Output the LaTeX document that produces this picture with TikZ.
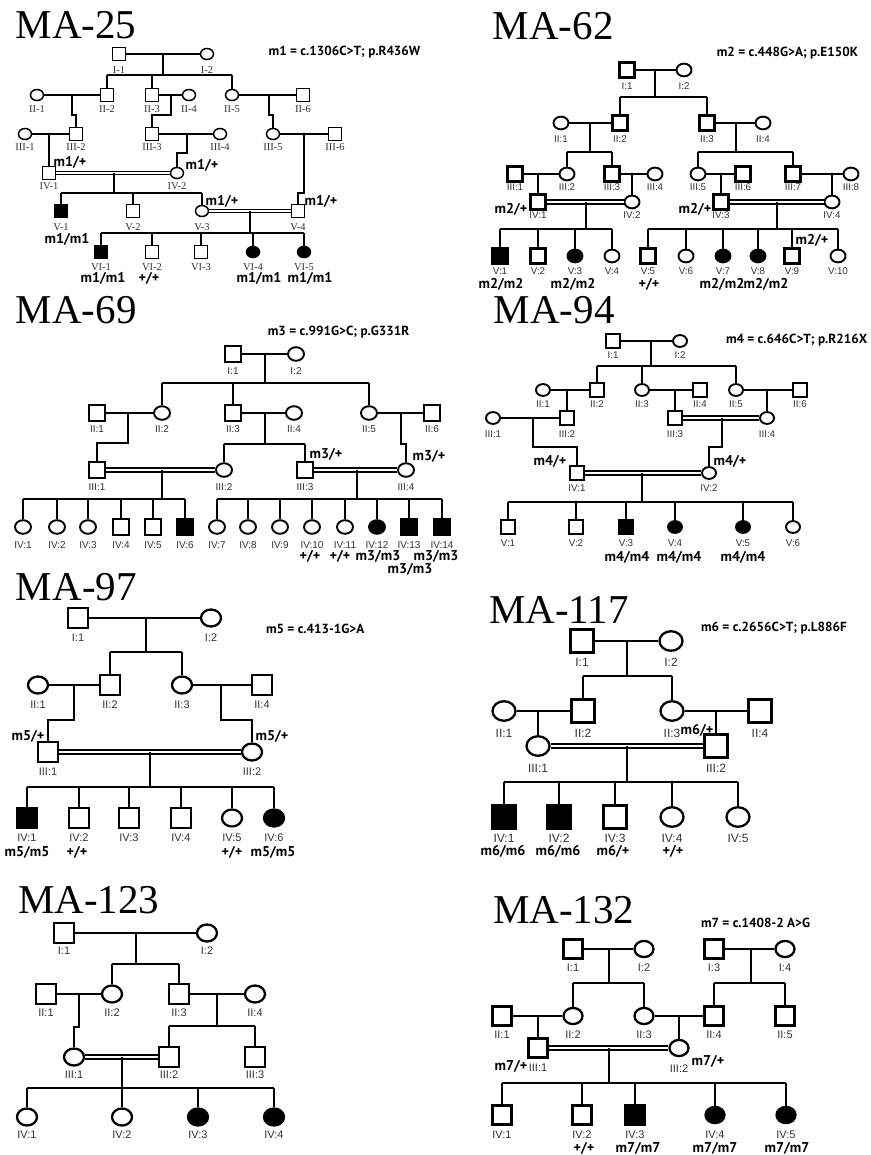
\documentclass[tikz,border=0pt]{standalone}
\usepackage{fontspec}
\setmainfont{Liberation Serif}
\newfontfamily\gsans{PT Sans}
\newfontfamily\isans{Liberation Sans}
\usetikzlibrary{shapes.geometric}
\tikzset{
 sqs/.style={draw, rectangle, inner sep=0pt, minimum size=#1},
 els/.style={draw, ellipse, inner sep=0pt, minimum width=#1, minimum height=0.85*#1},
 aff/.style={fill=black},
 dbl/.style={double, double distance=1.8pt},
 ttl/.style={font=\fontsize{41}{41}\selectfont, inner sep=0pt, anchor=base west},
 mut/.style={font=\gsans\bfseries\fontsize{13.2}{14}\selectfont, inner sep=0pt, anchor=west},
 gt/.style={font=\gsans\bfseries\fontsize{14.2}{15}\selectfont, inner sep=0pt},
}
\newcommand\ind[6]{\node[#1] (#2) at (#3,#4) {}; \node[idl] (#2t) at (#3,#5) {#6};}
\newcommand\gtp[4]{\node[gt] (#1) at (#2,#3) {#4};}
\begin{document}
\begin{tikzpicture}[x=1pt,y=-1pt]
\fill[white] (0,0) rectangle (870,1155);
\useasboundingbox (0,0) rectangle (870,1155);

% ---------------- MA-25
\begin{scope}[M/.style={sqs=13,line width=1.6pt}, F/.style={els=13,line width=1.5pt},
 idl/.style={font=\fontsize{10.5}{10.5}\selectfont, text=black!80, inner sep=0pt}, line width=1.3pt]
\node[ttl] (aT) at (15,39) {MA-25};
\node[mut] (aMu) at (268,52) {m1 = c.1306C>T; p.R436W};
\ind{M}{aI1}{119}{54}{70}{I-1}
\ind{F}{aI2}{207}{54}{70}{I-2}
\ind{F}{aII1}{37}{95}{109}{II-1}
\ind{M}{aII2}{107}{95}{109}{II-2}
\ind{M}{aII3}{152}{95}{109}{II-3}
\ind{F}{aII4}{189}{95}{109}{II-4}
\ind{F}{aII5}{232}{95}{109}{II-5}
\ind{M}{aII6}{303}{95}{109}{II-6}
\ind{F}{aIII1}{25}{134}{147}{III-1}
\ind{M}{aIII2}{76}{134}{147}{III-2}
\ind{M}{aIII3}{152}{134}{147}{III-3}
\ind{F}{aIII4}{220}{134}{147}{III-4}
\ind{F}{aIII5}{273}{134}{147}{III-5}
\ind{M}{aIII6}{335}{134}{147}{III-6}
\ind{M}{aIV1}{49}{173}{186}{IV-1}
\ind{F}{aIV2}{177}{173}{186}{IV-2}
\ind{M,aff}{aV1}{61}{211}{227}{V-1}
\ind{M}{aV2}{133}{211}{227}{V-2}
\ind{F}{aV3}{202}{211}{227}{V-3}
\ind{M}{aV4}{298}{211}{227}{V-4}
\ind{M,aff}{aVI1}{101}{252}{267}{VI-1}
\ind{M}{aVI2}{152}{252}{267}{VI-2}
\ind{M}{aVI3}{201}{252}{267}{VI-3}
\ind{F,aff}{aVI4}{253}{252}{267}{VI-4}
\ind{F,aff}{aVI5}{304}{252}{267}{VI-5}
\draw (aI1) -- (aI2);
\coordinate (aD1) at (163,54); \coordinate (aS1) at (163,75);
\draw (aD1) -- (aS1); \draw (aII2 |- aS1) -- (aII5 |- aS1);
\foreach \nn in {aII2,aII3,aII5} \draw (\nn |- aS1) -- (\nn.north);
\draw (aII1) -- (aII2); \coordinate (aD2) at (72,95); \draw (aD2) -- ++(0,20) -| (aIII2.north);
\draw (aII3) -- (aII4); \coordinate (aD3) at (171,95); \draw (aD3) -- ++(0,20) -| (aIII3.north);
\draw (aII5) -- (aII6); \coordinate (aD4) at (269,95); \draw (aD4) -- ++(0,20) -| (aIII5.north);
\draw (aIII1) -- (aIII2); \draw (aIV1.north |- aIII1) -- (aIV1.north);
\draw (aIII3) -- (aIII4); \coordinate (aD5) at (187,134); \draw (aD5) -- ++(0,19) -| (aIV2.north);
\draw (aIII5) -- (aIII6); \coordinate (aD6) at (304,134); \draw (aD6) -- ++(0,59) -| (aV4.north);
\draw[dbl] (aIV1) -- (aIV2);
\coordinate (aD7) at (114,173); \coordinate (aS7) at (114,193);
\draw (aD7) -- (aS7); \draw (aV1 |- aS7) -- (aV3 |- aS7);
\foreach \nn in {aV1,aV2,aV3} \draw (\nn |- aS7) -- (\nn.north);
\draw[dbl] (aV3) -- (aV4);
\coordinate (aD8) at (250,211); \coordinate (aS8) at (250,233);
\draw (aD8) -- (aS8); \draw (aVI1 |- aS8) -- (aVI5 |- aS8);
\foreach \nn in {aVI1,aVI2,aVI3,aVI4,aVI5} \draw (\nn |- aS8) -- (\nn.north);
\gtp{aG1}{70}{162}{m1/+}
\gtp{aG2}{202}{165}{m1/+}
\gtp{aG3}{222}{201}{m1/+}
\gtp{aG4}{321}{201}{m1/+}
\gtp{aG5}{67}{239}{m1/m1}
\gtp{aG6}{103}{278}{m1/m1}
\gtp{aG7}{149}{278}{+/+}
\gtp{aG8}{259}{278}{m1/m1}
\gtp{aG9}{310}{278}{m1/m1}
\end{scope}

% ---------------- MA-62
\begin{scope}[M/.style={sqs=15,line width=2.1pt}, F/.style={els=15,line width=1.9pt},
 idl/.style={font=\isans\fontsize{9.8}{9.8}\selectfont, text=black!80, inner sep=0pt}, line width=1.7pt]
\node[ttl] (bT) at (492,40) {MA-62};
\node[mut] (bMu) at (716,53) {m2 = c.448G>A; p.E150K};
\ind{M}{bI1}{627}{70}{86}{I:1}
\ind{F}{bI2}{684}{70}{86}{I:2}
\ind{F}{bII1}{561}{123}{139}{II:1}
\ind{M}{bII2}{620}{123}{139}{II:2}
\ind{M}{bII3}{707}{123}{139}{II:3}
\ind{F}{bII4}{763}{123}{139}{II:4}
\ind{M}{bIII1}{515}{174}{187}{III:1}
\ind{F}{bIII2}{567}{174}{187}{III:2}
\ind{M}{bIII3}{612}{174}{187}{III:3}
\ind{F}{bIII4}{655}{174}{187}{III:4}
\ind{F}{bIII5}{698}{174}{187}{III:5}
\ind{M}{bIII6}{743}{174}{187}{III:6}
\ind{M}{bIII7}{793}{174}{187}{III:7}
\ind{F}{bIII8}{851}{174}{187}{III:8}
\ind{M}{bIV1}{538}{202}{215}{IV:1}
\ind{F}{bIV2}{632}{202}{215}{IV:2}
\ind{M}{bIV3}{721}{202}{215}{IV:3}
\ind{F}{bIV4}{832}{202}{215}{IV:4}
\ind{M,aff}{bV1}{500}{256}{271}{V:1}
\ind{M}{bV2}{538}{256}{271}{V:2}
\ind{F,aff}{bV3}{575}{256}{271}{V:3}
\ind{F}{bV4}{612}{256}{271}{V:4}
\ind{M}{bV5}{648}{256}{271}{V:5}
\ind{F}{bV6}{686}{256}{271}{V:6}
\ind{F,aff}{bV7}{723}{256}{271}{V:7}
\ind{F,aff}{bV8}{758}{256}{271}{V:8}
\ind{M}{bV9}{792}{256}{271}{V:9}
\ind{F}{bV10}{838}{256}{271}{V:10}
\draw (bI1) -- (bI2);
\coordinate (bD1) at (655,70); \coordinate (bS1) at (655,97);
\draw (bD1) -- (bS1); \draw (bII2 |- bS1) -- (bII3 |- bS1);
\foreach \nn in {bII2,bII3} \draw (\nn |- bS1) -- (\nn.north);
\draw (bII1) -- (bII2);
\coordinate (bD2) at (590,123); \coordinate (bS2) at (590,152);
\draw (bD2) -- (bS2); \draw (bIII2 |- bS2) -- (bIII3 |- bS2);
\foreach \nn in {bIII2,bIII3} \draw (\nn |- bS2) -- (\nn.north);
\draw (bII3) -- (bII4);
\coordinate (bD3) at (736,123); \coordinate (bS3) at (736,152);
\draw (bD3) -- (bS3); \draw (bIII5 |- bS3) -- (bIII7 |- bS3);
\foreach \nn in {bIII5,bIII7} \draw (\nn |- bS3) -- (\nn.north);
\draw (bIII1) -- (bIII2); \draw (bIV1.north |- bIII1) -- (bIV1.north);
\draw (bIII3) -- (bIII4); \draw (bIV2.north |- bIII3) -- (bIV2.north);
\draw (bIII5) -- (bIII6); \draw (bIV3.north |- bIII5) -- (bIV3.north);
\draw (bIII7) -- (bIII8); \draw (bIV4.north |- bIII7) -- (bIV4.north);
\draw[dbl] (bIV1) -- (bIV2);
\coordinate (bD4) at (586,202); \coordinate (bS4) at (586,229);
\draw (bD4) -- (bS4); \draw (bV1 |- bS4) -- (bV4 |- bS4);
\foreach \nn in {bV1,bV2,bV3,bV4} \draw (\nn |- bS4) -- (\nn.north);
\draw[dbl] (bIV3) -- (bIV4);
\coordinate (bD5) at (777,202); \coordinate (bS5) at (777,229);
\draw (bD5) -- (bS5); \draw (bV5 |- bS5) -- (bV10 |- bS5);
\foreach \nn in {bV5,bV6,bV7,bV8,bV9,bV10} \draw (\nn |- bS5) -- (\nn.north);
\gtp{bG1}{511}{209}{m2/+}
\gtp{bG2}{695}{209}{m2/+}
\gtp{bG3}{812}{240}{m2/+}
\gtp{bG4}{501}{284}{m2/m2}
\gtp{bG5}{573}{284}{m2/m2}
\gtp{bG6}{649}{284}{+/+}
\gtp{bG7}{722}{284}{m2/m2}
\gtp{bG8}{766}{284}{m2/m2}
\end{scope}

% ---------------- MA-69
\begin{scope}[M/.style={sqs=16,line width=2.1pt}, F/.style={els=16,line width=1.9pt},
 idl/.style={font=\isans\fontsize{10}{10}\selectfont, text=black!80, inner sep=0pt}, line width=1.7pt]
\node[ttl] (cT) at (15,323) {MA-69};
\node[mut] (cMu) at (267,332) {m3 = c.991G>C; p.G331R};
\ind{M}{cI1}{233}{354}{371}{I:1}
\ind{F}{cI2}{296}{354}{371}{I:2}
\ind{M}{cII1}{97}{413}{429}{II:1}
\ind{F}{cII2}{162}{413}{429}{II:2}
\ind{M}{cII3}{233}{413}{429}{II:3}
\ind{F}{cII4}{294}{413}{429}{II:4}
\ind{F}{cII5}{369}{413}{429}{II:5}
\ind{M}{cII6}{432}{413}{429}{II:6}
\ind{M}{cIII1}{97}{470}{487}{III:1}
\ind{F}{cIII2}{224}{470}{487}{III:2}
\ind{M}{cIII3}{305}{470}{487}{III:3}
\ind{F}{cIII4}{406}{470}{487}{III:4}
\ind{F}{cIV1}{23}{527}{545}{IV:1}
\ind{F}{cIV2}{57}{527}{545}{IV:2}
\ind{F}{cIV3}{88}{527}{545}{IV:3}
\ind{M}{cIV4}{121}{527}{545}{IV:4}
\ind{M}{cIV5}{153}{527}{545}{IV:5}
\ind{M,aff}{cIV6}{185}{527}{545}{IV:6}
\ind{F}{cIV7}{217}{527}{545}{IV:7}
\ind{F}{cIV8}{248}{527}{545}{IV:8}
\ind{F}{cIV9}{280}{527}{545}{IV:9}
\ind{F}{cIV10}{312}{527}{545}{IV:10}
\ind{F}{cIV11}{345}{527}{545}{IV:11}
\ind{F,aff}{cIV12}{377}{527}{545}{IV:12}
\ind{M,aff}{cIV13}{409}{527}{545}{IV:13}
\ind{M,aff}{cIV14}{442}{527}{545}{IV:14}
\draw (cI1) -- (cI2);
\coordinate (cD1) at (265,354); \coordinate (cS1) at (265,383);
\draw (cD1) -- (cS1); \draw (cII2 |- cS1) -- (cII5 |- cS1);
\foreach \nn in {cII2,cII3,cII5} \draw (\nn |- cS1) -- (\nn.north);
\draw (cII1) -- (cII2); \coordinate (cD2) at (128,413); \draw (cD2) -- ++(0,30) -| (cIII1.north);
\draw (cII3) -- (cII4);
\coordinate (cD3) at (265,413); \coordinate (cS3) at (265,444);
\draw (cD3) -- (cS3); \draw (cIII2 |- cS3) -- (cIII3 |- cS3);
\foreach \nn in {cIII2,cIII3} \draw (\nn |- cS3) -- (\nn.north);
\draw (cII5) -- (cII6); \coordinate (cD4) at (401,413); \draw (cD4) -- ++(0,31) -| (cIII4.north);
\draw[dbl] (cIII1) -- (cIII2);
\coordinate (cD5) at (162,470); \coordinate (cS5) at (162,499);
\draw (cD5) -- (cS5); \draw (cIV1 |- cS5) -- (cIV6 |- cS5);
\foreach \nn in {cIV1,cIV2,cIV3,cIV4,cIV5,cIV6} \draw (\nn |- cS5) -- (\nn.north);
\draw[dbl] (cIII3) -- (cIII4);
\coordinate (cD6) at (357,470); \coordinate (cS6) at (357,499);
\draw (cD6) -- (cS6); \draw (cIV7 |- cS6) -- (cIV14 |- cS6);
\foreach \nn in {cIV7,cIV8,cIV9,cIV10,cIV11,cIV12,cIV13,cIV14} \draw (\nn |- cS6) -- (\nn.north);
\gtp{cG1}{326}{454}{m3/+}
\gtp{cG2}{429}{456}{m3/+}
\gtp{cG3}{310}{556}{+/+}
\gtp{cG4}{340}{556}{+/+}
\gtp{cG5}{378}{556}{m3/m3}
\gtp{cG6}{436}{556}{m3/m3}
\gtp{cG7}{410}{569}{m3/m3}
\end{scope}

% ---------------- MA-94
\begin{scope}[M/.style={sqs=14,line width=2.1pt}, F/.style={els=14,line width=1.9pt},
 idl/.style={font=\isans\fontsize{9.8}{9.8}\selectfont, text=black!80, inner sep=0pt}, line width=1.7pt]
\node[ttl] (dT) at (493,323) {MA-94};
\node[mut, anchor=east] (dMu) at (868,340) {m4 = c.646C>T; p.R216X};
\ind{M}{dI1}{613}{341}{355}{I:1}
\ind{F}{dI2}{680}{341}{355}{I:2}
\ind{F}{dII1}{543}{390}{404}{II:1}
\ind{M}{dII2}{597}{390}{404}{II:2}
\ind{F}{dII3}{642}{390}{404}{II:3}
\ind{M}{dII4}{700}{390}{404}{II:4}
\ind{F}{dII5}{736}{390}{404}{II:5}
\ind{M}{dII6}{800}{390}{404}{II:6}
\ind{F}{dIII1}{493}{418}{434}{III:1}
\ind{M}{dIII2}{567}{418}{434}{III:2}
\ind{M}{dIII3}{675}{418}{434}{III:3}
\ind{F}{dIII4}{767}{418}{434}{III:4}
\ind{M}{dIV1}{577}{473}{488}{IV:1}
\ind{F}{dIV2}{709}{473}{488}{IV:2}
\ind{M}{dV1}{508}{527}{543}{V:1}
\ind{M}{dV2}{576}{527}{543}{V:2}
\ind{M,aff}{dV3}{626}{527}{543}{V:3}
\ind{F,aff}{dV4}{675}{527}{543}{V:4}
\ind{F,aff}{dV5}{743}{527}{543}{V:5}
\ind{F}{dV6}{793}{527}{543}{V:6}
\draw (dI1) -- (dI2);
\coordinate (dD1) at (651,341); \coordinate (dS1) at (651,366);
\draw (dD1) -- (dS1); \draw (dII2 |- dS1) -- (dII5 |- dS1);
\foreach \nn in {dII2,dII3,dII5} \draw (\nn |- dS1) -- (\nn.north);
\draw (dII1) -- (dII2); \draw (dIII2.north |- dII1) -- (dIII2.north);
\draw (dII3) -- (dII4); \draw (dIII3.north |- dII3) -- (dIII3.north);
\draw (dII5) -- (dII6); \draw (dIII4.north |- dII5) -- (dIII4.north);
\draw (dIII1) -- (dIII2); \coordinate (dD2) at (533,418); \draw (dD2) -- ++(0,29) -| (dIV1.north);
\draw[dbl] (dIII3) -- (dIII4); \coordinate (dD3) at (722,418); \draw (dD3) -- ++(0,29) -| (dIV2.north);
\draw[dbl] (dIV1) -- (dIV2);
\coordinate (dD4) at (642,473); \coordinate (dS4) at (642,502);
\draw (dD4) -- (dS4); \draw (dV1 |- dS4) -- (dV6 |- dS4);
\foreach \nn in {dV1,dV2,dV3,dV4,dV5,dV6} \draw (\nn |- dS4) -- (\nn.north);
\gtp{dG1}{550}{461}{m4/+}
\gtp{dG2}{730}{461}{m4/+}
\gtp{dG3}{627}{557}{m4/m4}
\gtp{dG4}{679}{557}{m4/m4}
\gtp{dG5}{743}{557}{m4/m4}
\end{scope}

% ---------------- MA-97
\begin{scope}[M/.style={sqs=20,line width=2.5pt}, F/.style={els=20,line width=2.3pt},
 idl/.style={font=\isans\fontsize{11}{11}\selectfont, text=black!80, inner sep=0pt}, line width=2pt]
\node[ttl] (eT) at (15,600) {MA-97};
\node[mut] (eMu) at (265,629) {m5 = c.413-1G>A};
\ind{M}{eI1}{78}{618}{638}{I:1}
\ind{F}{eI2}{211}{618}{638}{I:2}
\ind{F}{eII1}{38}{685}{705}{II:1}
\ind{M}{eII2}{110}{685}{705}{II:2}
\ind{F}{eII3}{182}{685}{705}{II:3}
\ind{M}{eII4}{262}{685}{705}{II:4}
\ind{M}{eIII1}{48}{752}{772}{III:1}
\ind{F}{eIII2}{252}{752}{772}{III:2}
\ind{M,aff}{eIV1}{27}{818}{838}{IV:1}
\ind{M}{eIV2}{79}{818}{838}{IV:2}
\ind{M}{eIV3}{129}{818}{838}{IV:3}
\ind{M}{eIV4}{181}{818}{838}{IV:4}
\ind{F}{eIV5}{232}{818}{838}{IV:5}
\ind{F,aff}{eIV6}{274}{818}{838}{IV:6}
\draw (eI1) -- (eI2);
\coordinate (eD1) at (146,618); \coordinate (eS1) at (146,652);
\draw (eD1) -- (eS1); \draw (eII2 |- eS1) -- (eII3 |- eS1);
\foreach \nn in {eII2,eII3} \draw (\nn |- eS1) -- (\nn.north);
\draw (eII1) -- (eII2); \coordinate (eD2) at (74,685); \draw (eD2) -- ++(0,35) -| (eIII1.north);
\draw (eII3) -- (eII4); \coordinate (eD3) at (221,685); \draw (eD3) -- ++(0,35) -| (eIII2.north);
\draw[dbl] (eIII1) -- (eIII2);
\coordinate (eD4) at (150,752); \coordinate (eS4) at (150,787);
\draw (eD4) -- (eS4); \draw (eIV1 |- eS4) -- (eIV6 |- eS4);
\foreach \nn in {eIV1,eIV2,eIV3,eIV4,eIV5,eIV6} \draw (\nn |- eS4) -- (\nn.north);
\gtp{eG1}{28}{736}{m5/+}
\gtp{eG2}{272}{736}{m5/+}
\gtp{eG3}{27}{852}{m5/m5}
\gtp{eG4}{77}{852}{+/+}
\gtp{eG5}{232}{852}{+/+}
\gtp{eG6}{273}{852}{m5/m5}
\end{scope}

% ---------------- MA-117
\begin{scope}[M/.style={sqs=23,line width=2.5pt}, F/.style={els=23,line width=2.3pt},
 idl/.style={font=\isans\fontsize{12}{12}\selectfont, text=black!80, inner sep=0pt}, line width=2pt]
\node[ttl] (fT) at (488,623) {MA-117};
\node[mut] (fMu) at (700,628) {m6 = c.2656C>T; p.L886F};
\ind{M}{fI1}{582}{641}{662}{I:1}
\ind{F}{fI2}{671}{641}{662}{I:2}
\ind{F}{fII1}{504}{711}{733}{II:1}
\ind{M}{fII2}{583}{711}{733}{II:2}
\ind{F}{fII3}{672}{711}{733}{II:3}
\ind{M}{fII4}{760}{711}{733}{II:4}
\ind{F}{fIII1}{538}{746}{768}{III:1}
\ind{M}{fIII2}{716}{746}{768}{III:2}
\ind{M,aff}{fIV1}{504}{817}{838}{IV:1}
\ind{M,aff}{fIV2}{559}{817}{838}{IV:2}
\ind{M}{fIV3}{615}{817}{838}{IV:3}
\ind{F}{fIV4}{672}{817}{838}{IV:4}
\ind{F}{fIV5}{738}{817}{838}{IV:5}
\draw (fI1) -- (fI2);
\coordinate (fD1) at (627,641); \coordinate (fS1) at (627,676);
\draw (fD1) -- (fS1); \draw (fII2 |- fS1) -- (fII3 |- fS1);
\foreach \nn in {fII2,fII3} \draw (\nn |- fS1) -- (\nn.north);
\draw (fII1) -- (fII2); \draw (fIII1.north |- fII1) -- (fIII1.north);
\draw (fII3) -- (fII4); \draw (fIII2.north |- fII3) -- (fIII2.north);
\draw[dbl] (fIII1) -- (fIII2);
\coordinate (fD4) at (627,746); \coordinate (fS4) at (627,782);
\draw (fD4) -- (fS4); \draw (fIV1 |- fS4) -- (fIV5 |- fS4);
\foreach \nn in {fIV1,fIV2,fIV3,fIV4,fIV5} \draw (\nn |- fS4) -- (\nn.north);
\gtp{fG1}{697}{730}{m6/+}
\gtp{fG2}{503}{851}{m6/m6}
\gtp{fG3}{558}{851}{m6/m6}
\gtp{fG4}{613}{851}{m6/+}
\gtp{fG5}{673}{851}{+/+}
\end{scope}

% ---------------- MA-123
\begin{scope}[M/.style={sqs=20,line width=2.5pt}, F/.style={els=20,line width=2.3pt},
 idl/.style={font=\isans\fontsize{11}{11}\selectfont, text=black!80, inner sep=0pt}, line width=2pt]
\node[ttl] (gT) at (17,913) {MA-123};
\ind{M}{gI1}{64}{933}{951}{I:1}
\ind{F}{gI2}{207}{933}{951}{I:2}
\ind{M}{gII1}{46}{994}{1013}{II:1}
\ind{F}{gII2}{112}{994}{1013}{II:2}
\ind{M}{gII3}{179}{994}{1013}{II:3}
\ind{F}{gII4}{255}{994}{1013}{II:4}
\ind{F}{gIII1}{74}{1057}{1075}{III:1}
\ind{M}{gIII2}{169}{1057}{1075}{III:2}
\ind{M}{gIII3}{255}{1057}{1075}{III:3}
\ind{F}{gIV1}{27}{1117}{1135}{IV:1}
\ind{F}{gIV2}{122}{1117}{1135}{IV:2}
\ind{F,aff}{gIV3}{198}{1117}{1135}{IV:3}
\ind{F,aff}{gIV4}{274}{1117}{1135}{IV:4}
\draw (gI1) -- (gI2);
\coordinate (gD1) at (136,933); \coordinate (gS1) at (136,964);
\draw (gD1) -- (gS1); \draw (gII2 |- gS1) -- (gII3 |- gS1);
\foreach \nn in {gII2,gII3} \draw (\nn |- gS1) -- (\nn.north);
\draw (gII1) -- (gII2); \coordinate (gD2) at (79,994); \draw (gD2) -- ++(0,33) -| (gIII1.north);
\draw (gII3) -- (gII4);
\coordinate (gD3) at (217,994); \coordinate (gS3) at (217,1026);
\draw (gD3) -- (gS3); \draw (gIII2 |- gS3) -- (gIII3 |- gS3);
\foreach \nn in {gIII2,gIII3} \draw (\nn |- gS3) -- (\nn.north);
\draw[dbl] (gIII1) -- (gIII2);
\coordinate (gD4) at (122,1057); \coordinate (gS4) at (122,1088);
\draw (gD4) -- (gS4); \draw (gIV1 |- gS4) -- (gIV4 |- gS4);
\foreach \nn in {gIV1,gIV2,gIV3,gIV4} \draw (\nn |- gS4) -- (\nn.north);
\end{scope}

% ---------------- MA-132
\begin{scope}[M/.style={sqs=19,line width=2.5pt}, F/.style={els=19,line width=2.3pt},
 idl/.style={font=\isans\fontsize{11}{11}\selectfont, text=black!80, inner sep=0pt}, line width=2pt]
\node[ttl] (hT) at (492,923) {MA-132};
\node[mut] (hMu) at (700,923) {m7 = c.1408-2 A>G};
\ind{M}{hI1}{573}{949}{968}{I:1}
\ind{F}{hI2}{644}{949}{968}{I:2}
\ind{M}{hI3}{714}{949}{968}{I:3}
\ind{F}{hI4}{785}{949}{968}{I:4}
\ind{M}{hII1}{502}{1016}{1035}{II:1}
\ind{F}{hII2}{573}{1016}{1035}{II:2}
\ind{F}{hII3}{644}{1016}{1035}{II:3}
\ind{M}{hII4}{714}{1016}{1035}{II:4}
\ind{M}{hII5}{785}{1016}{1035}{II:5}
\ind{M}{hIII1}{538}{1048}{1068}{III:1}
\ind{F}{hIII2}{679}{1048}{1069}{III:2}
\ind{M}{hIV1}{502}{1115}{1135}{IV:1}
\ind{M}{hIV2}{582}{1115}{1135}{IV:2}
\ind{M,aff}{hIV3}{635}{1115}{1135}{IV:3}
\ind{F,aff}{hIV4}{715}{1115}{1135}{IV:4}
\ind{F,aff}{hIV5}{786}{1115}{1135}{IV:5}
\draw (hI1) -- (hI2);
\coordinate (hD1) at (609,949); \coordinate (hS1) at (609,983);
\draw (hD1) -- (hS1); \draw (hII2 |- hS1) -- (hII3 |- hS1);
\foreach \nn in {hII2,hII3} \draw (\nn |- hS1) -- (\nn.north);
\draw (hI3) -- (hI4);
\coordinate (hD2) at (751,949); \coordinate (hS2) at (751,983);
\draw (hD2) -- (hS2); \draw (hII4 |- hS2) -- (hII5 |- hS2);
\foreach \nn in {hII4,hII5} \draw (\nn |- hS2) -- (\nn.north);
\draw (hII1) -- (hII2); \draw (hIII1.north |- hII1) -- (hIII1.north);
\draw (hII3) -- (hII4); \draw (hIII2.north |- hII3) -- (hIII2.north);
\draw[dbl] (hIII1) -- (hIII2);
\coordinate (hD3) at (609,1048); \coordinate (hS3) at (609,1083);
\draw (hD3) -- (hS3); \draw (hIV1 |- hS3) -- (hIV5 |- hS3);
\foreach \nn in {hIV1,hIV2,hIV3,hIV4,hIV5} \draw (\nn |- hS3) -- (\nn.north);
\gtp{hG1}{511}{1066}{m7/+}
\gtp{hG2}{708}{1061}{m7/+}
\gtp{hG3}{584}{1148}{+/+}
\gtp{hG4}{638}{1148}{m7/m7}
\gtp{hG5}{715}{1148}{m7/m7}
\gtp{hG6}{787}{1148}{m7/m7}
\end{scope}
\end{tikzpicture}
\end{document}
